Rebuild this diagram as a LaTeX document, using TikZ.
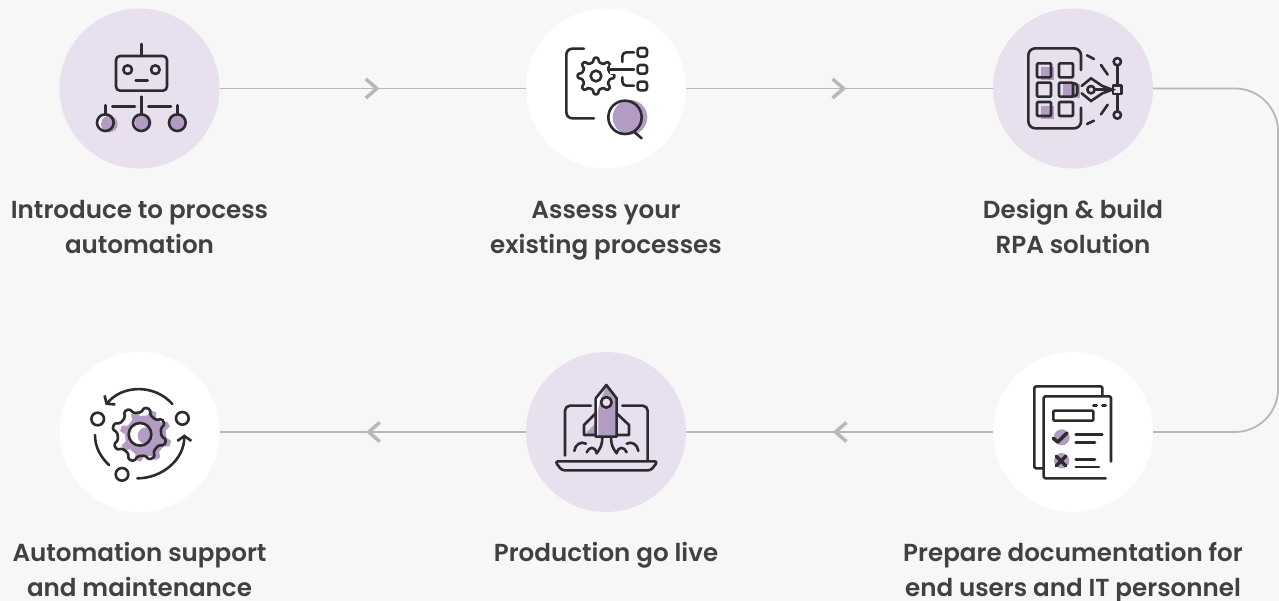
\documentclass[tikz,border=0pt]{standalone}
\usepackage{fontspec}
\setmainfont{Poppins}[BoldFont={Poppins SemiBold}]
\usetikzlibrary{arrows.meta,positioning,decorations.markings}
\definecolor{pagegray}{HTML}{F7F7F7}
\definecolor{linegray}{HTML}{B8B8B8}
\definecolor{inkdark}{HTML}{2C2C2E}
\definecolor{lilac}{HTML}{E8E0EE}
\definecolor{plum}{HTML}{B39CC4}
\tikzset{
  step lilac/.style={circle,minimum size=160pt,inner sep=0pt,fill=lilac},
  step white/.style={circle,minimum size=160pt,inner sep=0pt,fill=white},
  caption/.style={font=\fontsize{24.6pt}{35pt}\selectfont\bfseries,text=inkdark!90,align=center,inner sep=0pt},
  link/.style={draw=linegray,line width=1.8pt},
  link mid/.style={link,postaction={decorate,decoration={markings,
    mark=at position 0.522 with {\arrow{Straight Barb[length=11pt,width=19pt,line width=3.5pt]}}}}},
  ink/.style={draw=inkdark,line width=2.6pt,line cap=round,line join=round},
  tint/.style={fill=plum,draw=none},
}
\newcommand{\gearpt}[4]{({#1+#3*cos(#4)},{#2+#3*sin(#4)})}
% cx cy inner outer teeth rotation
\newcommand{\gearpath}[6]{\gearpt{#1}{#2}{#3}{#6}
  \foreach \t in {1,...,#5}{
    -- \gearpt{#1}{#2}{#3}{#6+(\t-1+.28)*360/#5}
    -- \gearpt{#1}{#2}{#4}{#6+(\t-1+.42)*360/#5}
    -- \gearpt{#1}{#2}{#4}{#6+(\t-1+.70)*360/#5}
    -- \gearpt{#1}{#2}{#3}{#6+(\t-1+.84)*360/#5}
  }
}
\begin{document}
\begin{tikzpicture}[x=1pt,y=-1pt,>=latex]
\useasboundingbox[fill=pagegray] (0,0) rectangle (1279,601);

% the steps
\node[step lilac] (intro) at (139.5,88.5) {};
\node[step white] (assess) at (606,88.5) {};
\node[step lilac] (design) at (1073,88.5) {};
\node[step white] (support) at (139.5,432) {};
\node[step lilac] (golive) at (606,432) {};
\node[step white] (prepare) at (1073,432) {};
\coordinate (turn) at (1278,88.5);

\node[caption,below=25pt of intro] (introtext) {\strut Introduce to process\\automation};
\node[caption,below=25pt of assess] (assesstext) {\strut Assess your\\existing processes};
\node[caption,below=25pt of design] (designtext) {\strut Design \& build\\RPA solution};
\node[caption,below=25pt of support] (supporttext) {\strut Automation support\\and maintenance};
\node[caption,below=25pt of golive] (golivetext) {\strut Production go live};
\node[caption,below=25pt of prepare] (preparetext) {\strut Prepare documentation for\\end users and IT personnel};

% the connectors
\draw[link mid] (intro) -- (assess);
\draw[link mid] (assess) -- (design);
\draw[link mid] (prepare) -- (golive);
\draw[link mid] (golive) -- (support);
\draw[link,rounded corners=43pt] (design) -- (turn) |- (prepare);

% robot
\begin{scope}[shift={(50,0)},scale=1/3]
  \fill[white] (166,368) circle (25);
  \fill[white] (274,368) circle (25);
  \fill[tint] (178,372) circle (25);
  \fill[tint] (280,368) circle (25);
  \fill[tint] (382,368) circle (25);
  \draw[ink] (274,132) -- (274,168);
  \draw[ink,rounded corners=4pt] (198,168) rectangle (351,272);
  \draw[ink] (233,209) circle (13) (316,209) circle (13);
  \draw[ink] (257,242) -- (293,242);
  \draw[ink] (274,290) -- (274,342);
  \draw[ink] (187,319) -- (255,319) (295,319) -- (363,319);
  \draw[ink] (166,316) -- (166,342) (382,316) -- (382,342);
  \draw[ink] (166,368) circle (25) (274,368) circle (25) (382,368) circle (25);
\end{scope}

% process search
\begin{scope}[shift={(515,0)},scale=1/3]
  \draw[ink,rounded corners=6pt] (207,146) -- (154,146) -- (154,355) -- (237,355);
  \draw[ink,rounded corners=1pt] \gearpath{243}{228}{42}{55}{8}{-25} -- cycle;
  \fill[white] (284,196) rectangle (302,222);
  \draw[ink] (243,228) circle (16);
  \draw[ink] (285,208) -- (357,208);
  \draw[ink,rounded corners=4pt] (357,157) -- (322,157) -- (322,186);
  \draw[ink,rounded corners=4pt] (322,232) -- (322,257) -- (357,257);
  \foreach \y in {157,208,258}
    \draw[ink,rounded corners=2.5pt] (368,\y-13) rectangle (396,\y+13);
  \fill[tint] (345,352) circle (52);
  \draw[ink] (330,352) circle (50);
  \draw[ink] (360,398) -- (380,415);
\end{scope}

% design panel
\begin{scope}[shift={(985,0)},scale=1/3]
  \fill[tint] (167,201) rectangle (207,241);
  \fill[tint] (233,253) rectangle (285,295);
  \fill[tint] (167,317) rectangle (207,357);
  \draw[ink,rounded corners=7pt] (288,210) -- (288,145) -- (130,145) -- (130,385) -- (288,385) -- (288,323);
  \foreach \x in {177,243} \foreach \y in {211,269,327}
    \draw[ink,rounded corners=1pt] (\x-21,\y-21) rectangle (\x+21,\y+21);
  \draw[ink,rounded corners=3pt] (262,250) -- (277,250) -- (277,288) -- (262,288);
  \draw[ink,line join=miter] (290,258) -- (318,235) -- (352,258) -- (382,269) -- (352,280) -- (318,303) -- (290,280);
  \draw[ink] (318,269) circle (11);
  \draw[ink] (330,269) -- (382,269);
  \draw[ink] (397,197) -- (397,256) (397,282) -- (397,333);
  \draw[ink] (397,185) circle (11) (397,345) circle (11);
  \draw[ink] (384,256) rectangle (410,282);
  \draw[ink] (306,166) -- (327,177) (348,195) -- (368,224);
  \draw[ink] (348,343) -- (368,314) (306,372) -- (327,362);
\end{scope}

% support gear
\begin{scope}[shift={(50,345)},scale=1/3]
  \fill[tint] \gearpath{287}{273}{62}{78}{8}{-8} -- cycle;
  \fill[white] (270,270) circle (34);
  \fill[tint] (288,272) circle (25);
  \draw[ink,rounded corners=1.5pt] \gearpath{268}{268}{66}{82}{8}{-8} -- cycle;
  \draw[ink] (270,268) circle (34);
  \draw[ink,-{Straight Barb[length=5pt,width=14pt]}] (367,177) .. controls (314,117) and (218,119) .. (167,180);
  \draw[ink,-{Straight Barb[length=5pt,width=14pt]}] (262,400) .. controls (337,400) and (403,343) .. (403,268);
  \draw[ink] (135,270) .. controls (135,306) and (151,335) .. (177,360);
  \draw[ink] (143,222) circle (19) (397,220) circle (19) (216,388) circle (19);
\end{scope}

% rocket
\begin{scope}[shift={(515,345)},scale=1/3]
  \draw[ink,rounded corners=5pt] (150,332) -- (150,182) -- (228,182);
  \draw[ink,rounded corners=5pt] (322,182) -- (398,182) -- (398,348);
  \draw[ink,rounded corners=3pt] (120,349) -- (428,349) -- (408,376) -- (140,376) -- cycle;
  \fill[tint] (274,120) -- (305,160) -- (305,275) -- (250,275) -- (250,190) -- cycle;
  \fill[white] (244,165) -- (258,135) -- (250,190) -- (244,210) -- cycle;
  \fill[tint] (215,262) -- (244,232) -- (244,270) -- (215,270) -- cycle;
  \draw[ink] (274,120) -- (242,160) -- (242,275) -- (305,275) -- (305,160) -- cycle;
  \draw[ink] (242,205) -- (207,240) -- (207,270) -- (242,270);
  \draw[ink] (305,205) -- (342,240) -- (342,270) -- (305,270);
  \fill[lilac] (274,172) circle (16);
  \draw[ink] (274,172) circle (16);
  \draw[ink] (262,278) .. controls (262,300) and (255,312) .. (245,325);
  \draw[ink] (288,278) .. controls (288,300) and (295,312) .. (305,325);
  \draw[ink] (178,318) .. controls (180,298) and (198,288) .. (213,296);
  \draw[ink] (215,322) .. controls (222,305) and (240,302) .. (245,325);
  \draw[ink] (305,325) .. controls (310,302) and (328,305) .. (335,322);
  \draw[ink] (335,296) .. controls (350,288) and (368,298) .. (370,318);
\end{scope}

% documents
\begin{scope}[shift={(985,345)},scale=1/3]
  \draw[ink,rounded corners=1.5pt] (352,152) -- (352,124) -- (148,124) -- (148,370) -- (175,370);
  \draw[ink,rounded corners=1.5pt] (378,350) -- (378,154) -- (176,154) -- (176,400) -- (362,400);
  \draw[ink,rounded corners=1pt] (205,197) rectangle (325,227);
  \draw[ink] (325,181) -- (335,181) (352,181) -- (362,181);
  \fill[tint] (230,277) circle (24);
  \fill[tint] (230,347) circle (23);
  \draw[ink,line width=3.5pt] (205,280) -- (218,291) -- (246,264);
  \draw[ink,line width=3.5pt] (214,334) -- (242,362) (242,334) -- (214,362);
  \draw[ink] (272,269) -- (352,269) (272,292) -- (330,292);
  \draw[ink] (272,343) -- (330,343) (272,366) -- (342,366);
\end{scope}
\end{tikzpicture}
\end{document}
